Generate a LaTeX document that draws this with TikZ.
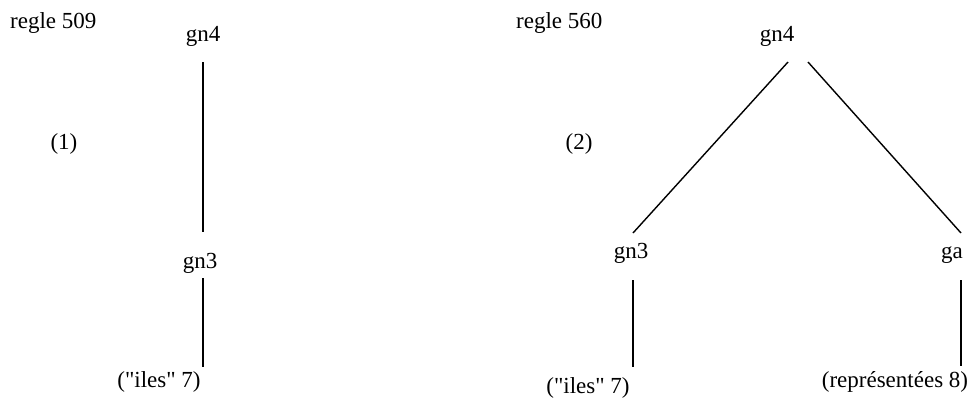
\documentclass[tikz,border=0pt]{standalone}
\usepackage{fontspec}
\setmainfont{Liberation Serif}[Ligatures=TeXOff]
\begin{document}
\begin{tikzpicture}[x=1pt,y=-1pt,
  lbl/.style={anchor=base,inner sep=0pt,font=\fontsize{23}{27}\selectfont},
  edge/.style={line width=1.4pt,black}]
\useasboundingbox[fill=white] (0,0) rectangle (972,408);
% left tree
\node[lbl,anchor=base west] (r509) at (10,28) {regle 509};
\node[lbl] (gn4L) at (203,41) {gn4};
\node[lbl] (p1) at (64,149) {(1)};
\node[lbl] (gn3L) at (200,268) {gn3};
\node[lbl] (ilesL) at (159,387) {("iles" 7)};
\coordinate (a1) at (203,62);
\coordinate (a2) at (203,232);
\coordinate (a3) at (203,278);
\coordinate (a4) at (203,367);
\draw[edge] (a1) -- (a2);
\draw[edge] (a3) -- (a4);
% right tree
\node[lbl,anchor=base west] (r560) at (516,28) {regle 560};
\node[lbl] (gn4R) at (777,41) {gn4};
\node[lbl] (p2) at (579,149) {(2)};
\node[lbl] (gn3R) at (631,258) {gn3};
\node[lbl] (gaR) at (952,258) {ga};
\node[lbl] (ilesR) at (588,393) {("iles" 7)};
\node[lbl] (repR) at (895,387) {(représentées 8)};
\coordinate (b1) at (788,62);
\coordinate (b2) at (633,233);
\coordinate (c1) at (808,62);
\coordinate (c2) at (961,233);
\coordinate (b3) at (633,280);
\coordinate (b4) at (633,367);
\coordinate (c3) at (961,280);
\coordinate (c4) at (961,366);
\draw[edge] (b1) -- (b2);
\draw[edge] (c1) -- (c2);
\draw[edge] (b3) -- (b4);
\draw[edge] (c3) -- (c4);
\end{tikzpicture}
\end{document}
